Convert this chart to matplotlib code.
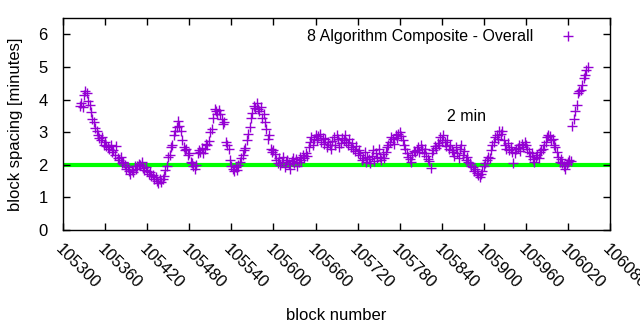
import numpy as np
import matplotlib
matplotlib.use('Agg')
import matplotlib.pyplot as plt

plt.rcParams['font.family'] = ['Liberation Sans', 'DejaVu Sans']

# block spacing in minutes, one reading every 2nd block starting at 105324
spacing = [
    3.82, 3.90, 3.78, 4.15, 4.28, 4.20, 3.95, 3.85, 3.62, 3.40, 3.32, 3.12, 3.05, 2.90, 2.82, 2.75, 2.85, 2.62, 2.70, 2.58,
    2.55, 2.48, 2.62, 2.40, 2.45, 2.30, 2.58, 2.22, 2.15, 2.25, 2.05, 2.10, 1.98, 1.88, 1.92, 1.80, 1.72, 1.85, 1.78, 1.95,
    1.88, 1.95, 2.02, 1.98, 2.08, 1.90, 1.85, 1.92, 1.80, 1.72, 1.78, 1.65, 1.70, 1.58, 1.62, 1.50, 1.45, 1.55, 1.48, 1.58,
    1.65, 1.85, 1.95, 2.25, 2.30, 2.55, 2.62, 2.90, 3.05, 3.15, 3.35, 3.20, 3.05, 2.75, 2.55, 2.45, 2.50, 2.30, 2.35, 2.10,
    2.05, 1.95, 1.88, 2.00, 2.35, 2.45, 2.40, 2.52, 2.35, 2.48, 2.65, 2.60, 2.72, 3.00, 3.10, 3.45, 3.72, 3.65, 3.55, 3.68,
    3.55, 3.40, 3.25, 3.30, 2.70, 2.62, 2.50, 2.15, 1.95, 1.88, 1.80, 1.92, 1.85, 1.98, 2.10, 2.20, 2.30, 2.45, 2.52, 2.75,
    2.95, 3.15, 3.45, 3.60, 3.82, 3.75, 3.90, 3.70, 3.65, 3.78, 3.45, 3.55, 3.30, 3.10, 2.80, 2.90, 2.50, 2.40, 2.45, 2.32,
    2.15, 2.05, 2.20, 1.98, 2.10, 2.25, 1.92, 2.08, 2.15, 2.02, 1.88, 2.12, 2.20, 2.05, 2.18, 1.95, 2.10, 2.25, 2.15, 2.30,
    2.20, 2.35, 2.28, 2.55, 2.70, 2.85, 2.62, 2.80, 2.90, 2.75, 2.88, 2.95, 2.70, 2.82, 2.65, 2.78, 2.55, 2.70, 2.62, 2.50,
    2.72, 2.85, 2.60, 2.90, 2.78, 2.55, 2.68, 2.82, 2.75, 2.92, 2.70, 2.62, 2.78, 2.55, 2.68, 2.50, 2.42, 2.58, 2.35, 2.45,
    2.30, 2.15, 2.22, 2.38, 2.10, 2.25, 2.18, 2.05, 2.28, 2.45, 2.12, 2.35, 2.20, 2.50, 2.25, 2.15, 2.32, 2.22, 2.40, 2.55,
    2.62, 2.70, 2.85, 2.78, 2.65, 2.90, 2.82, 2.95, 3.02, 2.88, 2.75, 2.60, 2.50, 2.35, 2.25, 2.18, 2.10, 2.30, 2.42, 2.38,
    2.45, 2.55, 2.38, 2.62, 2.48, 2.35, 2.50, 2.28, 2.18, 2.12, 1.90, 2.35, 2.45, 2.58, 2.52, 2.68, 2.62, 2.85, 2.75, 2.92,
    2.70, 2.58, 2.75, 2.50, 2.62, 2.45, 2.40, 2.28, 2.55, 2.35, 2.20, 2.48, 2.62, 2.30, 2.42, 2.15, 2.25, 2.10, 2.05, 1.95,
    1.92, 1.82, 1.88, 1.75, 1.68, 1.62, 1.72, 1.80, 1.95, 2.05, 2.15, 2.25, 2.20, 2.45, 2.62, 2.70, 2.85, 2.92, 2.78, 3.05,
    2.95, 3.05, 2.75, 2.62, 2.50, 2.68, 2.45, 2.55, 2.40, 2.05, 2.35, 2.48, 2.52, 2.60, 2.42, 2.65, 2.55, 2.70, 2.62, 2.48,
    2.40, 2.28, 2.35, 2.18, 2.10, 2.25, 2.30, 2.20, 2.38, 2.45, 2.50, 2.62, 2.70, 2.85, 2.92, 2.88, 2.75, 2.80, 2.62, 2.55,
    2.40, 2.25, 2.10, 2.18, 2.05, 1.95, 1.88, 2.02, 2.08, 2.15, 2.12, 3.20, 3.40, 3.65, 3.85, 4.20, 4.25, 4.30, 4.45, 4.65,
    4.75, 4.90, 5.00,
]
blocks = 105324 + 2 * np.arange(len(spacing))

target = 2  # minutes
x_ticks = list(range(105300, 106081, 60))
y_ticks = [0, 1, 2, 3, 4, 5, 6]

fig = plt.figure(figsize=(6.4, 3.3), dpi=100)
ax = fig.add_axes([0.0984, 0.303, 0.855, 0.642])

ax.axhline(target, color='#00ff00', linewidth=3, zorder=1)
ax.plot(blocks, spacing, linestyle='none', marker='+', markersize=7.5, markeredgewidth=1,
        color='#9400d3', label='8 Algorithm Composite - Overall', zorder=2)

ax.text(105875, 3.48, '2 min', fontsize=11.5, ha='center', va='center')

ax.set_xlim(105300, 106080)
ax.set_ylim(0, 6.5)
ax.set_xticks(x_ticks)
ax.set_yticks(y_ticks)
ax.set_xticklabels([str(t) for t in x_ticks], rotation=-45, ha='left', va='top',
                   rotation_mode='anchor', fontsize=12)
ax.set_yticklabels([str(t) for t in y_ticks], fontsize=12)
ax.tick_params(direction='in', top=True, right=True, length=5, width=1)
ax.tick_params(axis='x', pad=8)
ax.tick_params(axis='y', pad=11)
for s in ax.spines.values():
    s.set_linewidth(1)

ax.set_xlabel('block number', fontsize=12, labelpad=12)
ax.set_ylabel('block spacing [minutes]', fontsize=12, labelpad=11)

ax.legend(loc='upper right', bbox_to_anchor=(0.979, 1.0), frameon=False, markerfirst=False,
          fontsize=11.5, handlelength=2.5, handletextpad=0.9, borderaxespad=0.3)

fig.savefig('out.png', dpi=100)
